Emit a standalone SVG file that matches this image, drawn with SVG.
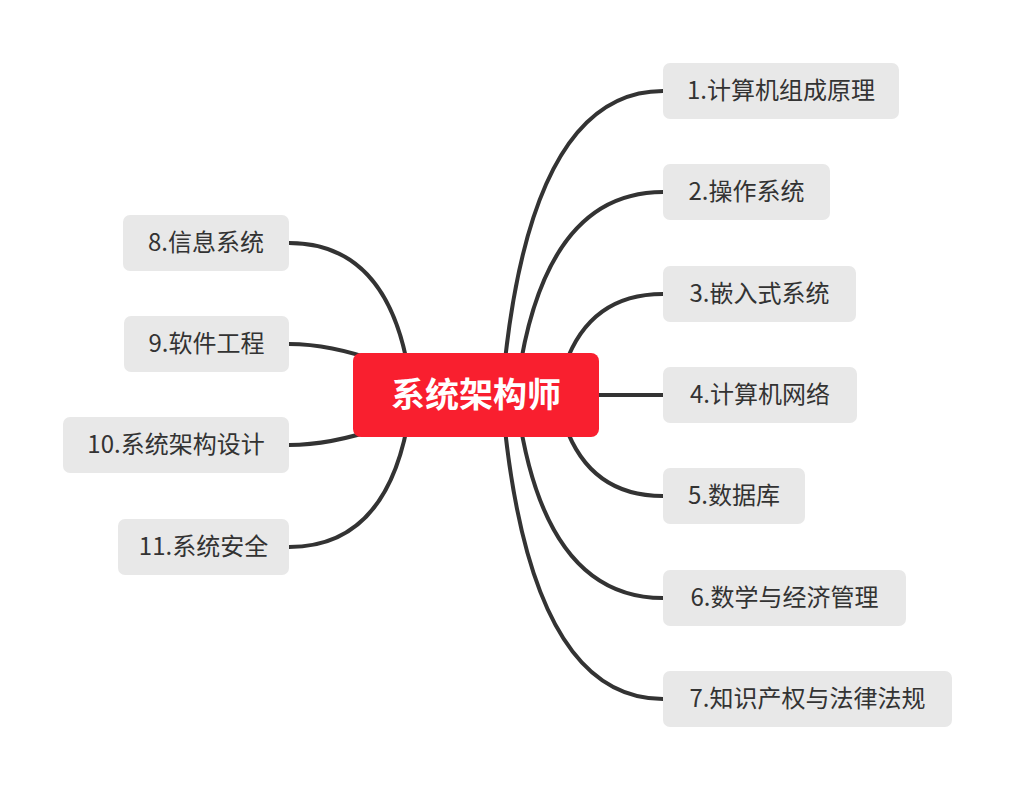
<svg xmlns="http://www.w3.org/2000/svg" width="1015" height="790" viewBox="0 0 1015 790">
<style>
.c{fill:none;stroke:#333333;stroke-width:4;stroke-linecap:round}
.leaf rect{fill:#E8E8E8}
.leaf text{font-family:"Noto Sans CJK SC","Noto Sans",sans-serif;font-size:24px;fill:#333333;text-anchor:middle}
.root rect{fill:#F91F2F}
.root text{font-family:"Noto Sans CJK SC","Noto Sans",sans-serif;font-size:34px;font-weight:bold;fill:#FFFFFF;text-anchor:middle}
</style>
<rect width="1015" height="790" fill="#FFFFFF"/>
<g id="connectors">
<path class="c" d="M503 380 Q530 91 663 91"/>
<path class="c" d="M518 380 Q545 192 663 192"/>
<path class="c" d="M565 365 Q590 294 663 294"/>
<path class="c" d="M590 395 L663 395"/>
<path class="c" d="M565 425 Q590 496 663 496"/>
<path class="c" d="M518 410 Q545 598 663 598"/>
<path class="c" d="M503 410 Q530 699 663 699"/>
<path class="c" d="M410 380 Q390 243 289 243"/>
<path class="c" d="M380 362 Q330 344 289 344"/>
<path class="c" d="M380 428 Q330 445 289 445"/>
<path class="c" d="M410 410 Q390 547 289 547"/>
</g>
<g id="root" class="root">
<rect x="353" y="353" width="246" height="84" rx="8"/>
<text x="476" y="407">系统架构师</text>
</g>
<g id="n1" class="leaf"><rect x="663" y="63" width="236" height="56" rx="7"/><text x="781" y="99">1.计算机组成原理</text></g>
<g id="n2" class="leaf"><rect x="663" y="164" width="167" height="56" rx="7"/><text x="746.5" y="200">2.操作系统</text></g>
<g id="n3" class="leaf"><rect x="663" y="266" width="193" height="56" rx="7"/><text x="759.5" y="302">3.嵌入式系统</text></g>
<g id="n4" class="leaf"><rect x="663" y="367" width="194" height="56" rx="7"/><text x="760" y="403">4.计算机网络</text></g>
<g id="n5" class="leaf"><rect x="663" y="468" width="142" height="56" rx="7"/><text x="734" y="504">5.数据库</text></g>
<g id="n6" class="leaf"><rect x="663" y="570" width="243" height="56" rx="7"/><text x="784.5" y="606">6.数学与经济管理</text></g>
<g id="n7" class="leaf"><rect x="663" y="671" width="289" height="56" rx="7"/><text x="807.5" y="707">7.知识产权与法律法规</text></g>
<g id="n8" class="leaf"><rect x="123" y="215" width="166" height="56" rx="7"/><text x="206" y="251">8.信息系统</text></g>
<g id="n9" class="leaf"><rect x="124" y="316" width="165" height="56" rx="7"/><text x="206.5" y="352">9.软件工程</text></g>
<g id="n10" class="leaf"><rect x="63" y="417" width="226" height="56" rx="7"/><text x="176" y="453">10.系统架构设计</text></g>
<g id="n11" class="leaf"><rect x="118" y="519" width="171" height="56" rx="7"/><text x="203.5" y="555">11.系统安全</text></g>
</svg>
